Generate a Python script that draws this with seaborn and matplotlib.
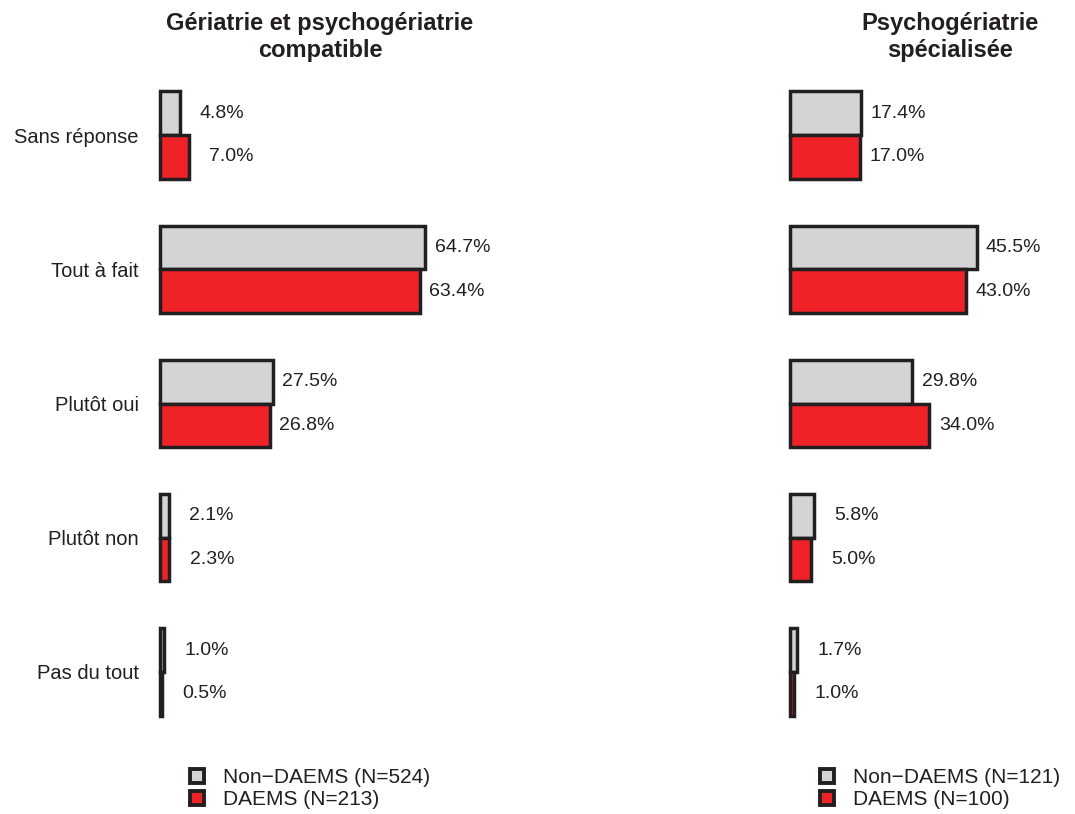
import matplotlib
matplotlib.use("Agg")
import matplotlib.pyplot as plt
import seaborn as sns
import pandas as pd
from matplotlib.lines import Line2D

sns.set_theme(style="white")
plt.rcParams['font.family'] = ['Liberation Sans', 'DejaVu Sans']

categories = ["Sans réponse", "Tout à fait", "Plutôt oui", "Plutôt non", "Pas du tout"]
groups = ["Non-DAEMS", "DAEMS"]

left_title = "Gériatrie et psychogériatrie\ncompatible"
left_non_daems = [4.8, 64.7, 27.5, 2.1, 1.0]
left_daems = [7.0, 63.4, 26.8, 2.3, 0.5]
left_legend = ["Non\u2212DAEMS (N=524)", "DAEMS (N=213)"]

right_title = "Psychogériatrie\nspécialisée"
right_non_daems = [17.4, 45.5, 29.8, 5.8, 1.7]
right_daems = [17.0, 43.0, 34.0, 5.0, 1.0]
right_legend = ["Non\u2212DAEMS (N=121)", "DAEMS (N=100)"]

colors = {"Non-DAEMS": "#d3d4d6", "DAEMS": "#ee2227"}
edge = "#231f20"
txt = "#231f20"

W, H = 1075, 814
fig = plt.figure(figsize=(W / 100, H / 100), dpi=100)

def make_df(a, b):
    rows = []
    for c, v in zip(categories, a):
        rows.append({"cat": c, "group": groups[0], "pct": v})
    for c, v in zip(categories, b):
        rows.append({"cat": c, "group": groups[1], "pct": v})
    return pd.DataFrame(rows)

ax_w = 324
top_px, bot_px = 68, 739

def panel(left_px, title, a, b, legend_labels, show_y):
    ax = fig.add_axes([left_px / W, (H - bot_px) / H, ax_w / W, (bot_px - top_px) / H])
    df = make_df(a, b)
    sns.barplot(data=df, x="pct", y="cat", hue="group", order=categories,
                hue_order=groups, palette=colors, orient="h", width=0.65,
                saturation=1, edgecolor=edge, linewidth=2.5, ax=ax,
                legend=False, errorbar=None)
    ax.set_xlim(-0.5, 78.5)
    ax.set_ylim(4.5, -0.5)
    for cont in ax.containers:
        for bar in cont:
            w = bar.get_width()
            yc = bar.get_y() + bar.get_height() / 2
            ax.text(w + 15.8, yc, f"{w:.1f}%", ha="right", va="center",
                    fontsize=14, color=txt)
    for s in ax.spines.values():
        s.set_visible(False)
    ax.set_xticks([])
    ax.set_xlabel("")
    ax.set_ylabel("")
    if show_y:
        ax.tick_params(axis="y", length=0, pad=14, labelsize=14.5, labelcolor=txt)
    else:
        ax.set_yticklabels([])
        ax.tick_params(axis="y", length=0)
    ax.set_title(title, fontsize=17, fontweight="bold", color=txt, pad=8,
                 linespacing=1.2)
    handles = [Line2D([], [], marker="s", linestyle="", markersize=10.5,
                      markerfacecolor=colors[g], markeredgecolor=edge,
                      markeredgewidth=2.8) for g in groups]
    fig.legend(handles, legend_labels, loc="upper left",
               bbox_to_anchor=((left_px + 29) / W, (H - 768) / H),
               frameon=False, fontsize=15, handlelength=1.0,
               handletextpad=0.75, labelspacing=0.15, borderpad=0,
               borderaxespad=0, labelcolor=txt)
    return ax

panel(158, left_title, left_non_daems, left_daems, left_legend, True)
panel(788, right_title, right_non_daems, right_daems, right_legend, False)

fig.savefig("out.png", dpi=100)
